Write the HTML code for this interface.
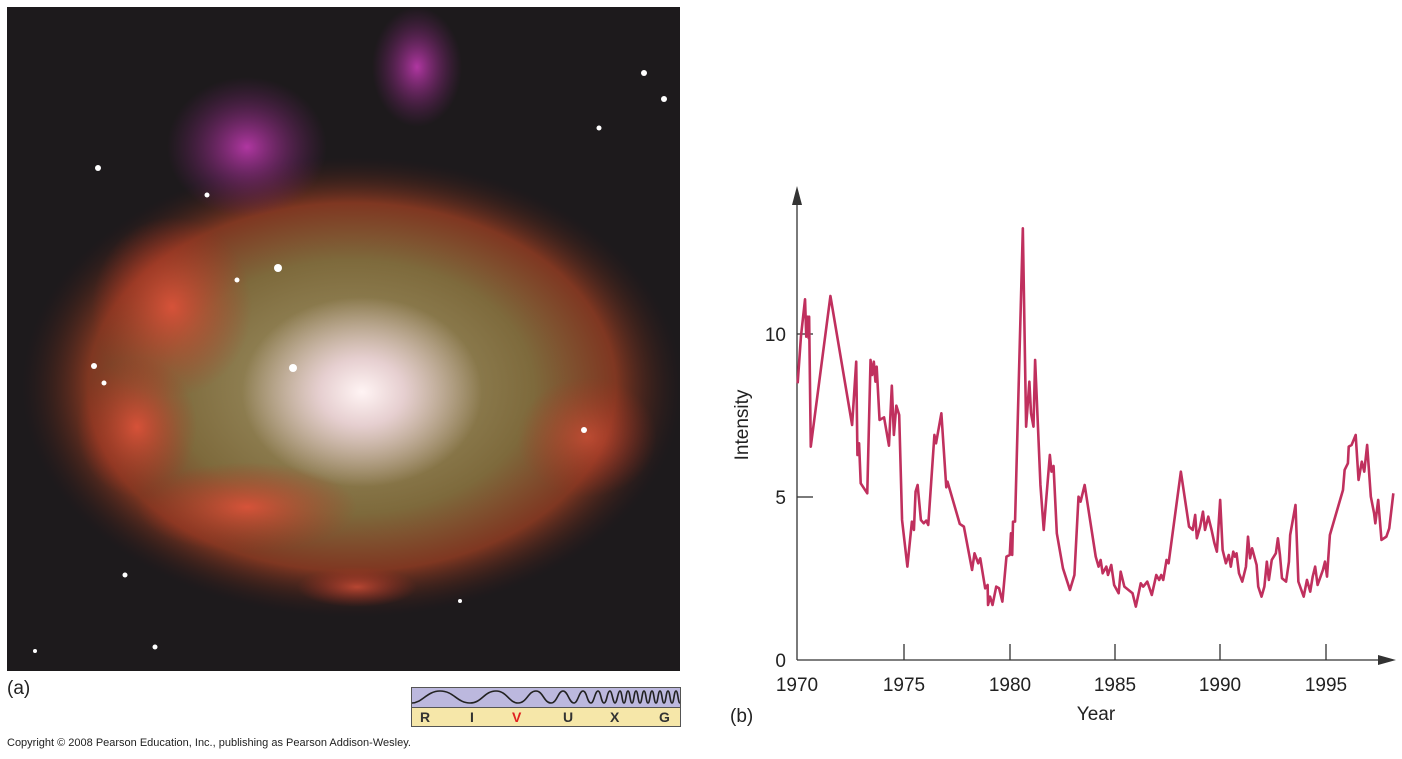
<!DOCTYPE html>
<html><head><style>
html,body{margin:0;padding:0;background:#fff;width:1402px;height:759px;overflow:hidden;font-family:"Liberation Sans",sans-serif;}
.abs{position:absolute;}
</style></head><body>
<div class="abs" style="left:7px;top:7px;width:673px;height:664px;background:#1d1a1c;overflow:hidden;">
<svg width="673" height="664" viewBox="0 0 673 664">
<defs>
<radialGradient id="core" cx="0.5" cy="0.5" r="0.5">
<stop offset="0" stop-color="#fff4f4"/><stop offset="0.35" stop-color="#e6cfd0"/><stop offset="1" stop-color="#e6cfd0" stop-opacity="0"/></radialGradient>
<radialGradient id="disk" cx="0.5" cy="0.5" r="0.5">
<stop offset="0" stop-color="#a49a6e"/><stop offset="0.55" stop-color="#7e6a3c"/><stop offset="0.8" stop-color="#8a3a22" stop-opacity="0.9"/><stop offset="1" stop-color="#3a1c18" stop-opacity="0"/></radialGradient>
<radialGradient id="red" cx="0.5" cy="0.5" r="0.5">
<stop offset="0" stop-color="#e0523a" stop-opacity="0.9"/><stop offset="1" stop-color="#b03020" stop-opacity="0"/></radialGradient>
<radialGradient id="pur" cx="0.5" cy="0.5" r="0.5">
<stop offset="0" stop-color="#c03ab0" stop-opacity="0.9"/><stop offset="1" stop-color="#7a2070" stop-opacity="0"/></radialGradient>
</defs>
<ellipse cx="345" cy="380" rx="330" ry="230" fill="url(#disk)"/>
<ellipse cx="165" cy="300" rx="80" ry="90" fill="url(#red)"/>
<ellipse cx="240" cy="500" rx="110" ry="45" fill="url(#red)"/>
<ellipse cx="130" cy="420" rx="60" ry="70" fill="url(#red)"/>
<ellipse cx="580" cy="430" rx="70" ry="60" fill="url(#red)" opacity="0.7"/>
<ellipse cx="350" cy="580" rx="60" ry="20" fill="url(#red)" opacity="0.8"/>
<ellipse cx="240" cy="140" rx="80" ry="70" fill="url(#pur)"/>
<ellipse cx="410" cy="60" rx="45" ry="60" fill="url(#pur)"/>
<ellipse cx="355" cy="385" rx="120" ry="95" fill="url(#core)"/>
<g fill="#fff">
<circle cx="91" cy="161" r="3"/><circle cx="637" cy="66" r="3"/><circle cx="657" cy="92" r="3"/><circle cx="592" cy="121" r="2.5"/>
<circle cx="271" cy="261" r="4"/><circle cx="286" cy="361" r="4"/><circle cx="87" cy="359" r="3"/><circle cx="97" cy="376" r="2.5"/>
<circle cx="577" cy="423" r="3"/><circle cx="118" cy="568" r="2.5"/><circle cx="148" cy="640" r="2.5"/><circle cx="28" cy="644" r="2"/>
<circle cx="200" cy="188" r="2.5"/><circle cx="230" cy="273" r="2.5"/><circle cx="453" cy="594" r="2"/>
</g>
</svg>
</div>
<div class="abs" style="left:7px;top:678px;font-size:19px;color:#222;">(a)</div>
<div class="abs" style="left:7px;top:737px;font-size:11px;color:#222;">Copyright © 2008 Pearson Education, Inc., publishing as Pearson Addison-Wesley.</div>
<div class="abs" style="left:411px;top:687px;width:268px;height:38px;border:1px solid #555;">
<div style="height:19px;background:#bcb8de;border-bottom:1px solid #555;overflow:hidden;">
<svg width="268" height="19"><path d="M0,15 C10,15 15,3 28,3 C42,3 45,15 58,15 C70,15 72,3 84,3 C95,3 97,15 106,15 C115,15 116,3 124,3 C131,3 132,15 139,15 C145,15 146,3 151,3 C156,3 157,15 162,15 C166,15 167,3 171,3 C175,3 175,15 179,15 C182,15 183,3 186,3 C189,3 189,15 192,15 C195,15 195,3 198,3 C200,3 201,15 203,15 C205,15 206,3 208,3 C210,3 210,15 212,15 C214,15 214,3 216,3 C218,3 218,15 220,15 C222,15 222,3 224,3 C226,3 226,15 228,15 C230,15 230,3 232,3 C234,3 234,15 236,15 C238,15 238,3 240,3 C242,3 242,15 244,15 C246,15 246,3 248,3 C250,3 250,15 252,15 C254,15 254,3 256,3 C258,3 258,15 260,15 C262,15 262,3 264,3 C266,3 266,15 268,15" fill="none" stroke="#222" stroke-width="1.6"/></svg>
</div>
<div style="height:18px;background:#f6e7a9;position:relative;font-weight:bold;font-size:14px;color:#333;">
<span class="abs" style="left:8px;top:1px;">R</span><span class="abs" style="left:58px;top:1px;">I</span><span class="abs" style="left:100px;top:1px;color:#e02020;">V</span><span class="abs" style="left:151px;top:1px;">U</span><span class="abs" style="left:198px;top:1px;">X</span><span class="abs" style="left:247px;top:1px;">G</span>
</div>
</div>
<svg class="abs" style="left:0;top:0;" width="1402" height="759">
<g stroke="#333" stroke-width="1.3" fill="none">
<line x1="797" y1="660" x2="797" y2="200"/>
<line x1="797" y1="660" x2="1384" y2="660"/>
<line x1="797" y1="334" x2="813" y2="334"/>
<line x1="797" y1="497" x2="813" y2="497"/>
<line x1="904" y1="644" x2="904" y2="660"/><line x1="1010" y1="644" x2="1010" y2="660"/><line x1="1115" y1="644" x2="1115" y2="660"/><line x1="1220" y1="644" x2="1220" y2="660"/><line x1="1326" y1="644" x2="1326" y2="660"/>
</g>
<polygon points="797,186 792,205 802,205" fill="#333"/>
<polygon points="1396,660 1378,655 1378,665" fill="#333"/>
<g font-family="Liberation Sans, sans-serif" font-size="19" fill="#222">
<text x="786" y="341" text-anchor="end">10</text>
<text x="786" y="504" text-anchor="end">5</text>
<text x="786" y="667" text-anchor="end">0</text>
<text x="797" y="691" text-anchor="middle">1970</text>
<text x="904" y="691" text-anchor="middle">1975</text>
<text x="1010" y="691" text-anchor="middle">1980</text>
<text x="1115" y="691" text-anchor="middle">1985</text>
<text x="1220" y="691" text-anchor="middle">1990</text>
<text x="1326" y="691" text-anchor="middle">1995</text>
<text x="1096" y="720" text-anchor="middle">Year</text>
<text x="730" y="722">(b)</text>
<text transform="translate(748,425) rotate(-90)" text-anchor="middle">Intensity</text>
</g>
<g transform="translate(760,180) scale(0.4094,0.3333)">
<polyline fill="none" stroke="#c0305e" stroke-width="2.6" vector-effect="non-scaling-stroke" stroke-linejoin="round" points="92,610 100,470 110,358 113,470 116,410 119,475 120,410 124,800 172,348 225,735 235,545 238,825 242,790 246,910 262,940 270,540 274,585 278,545 282,605 285,560 292,720 303,712 315,797 322,617 327,765 333,677 340,705 347,1020 360,1160 371,1025 376,1050 380,935 385,915 393,1020 400,1030 406,1022 411,1035 426,765 430,790 443,700 455,922 458,905 488,1032 498,1040 518,1170 524,1120 533,1150 538,1135 550,1225 556,1215 557,1275 562,1250 568,1275 577,1220 584,1225 592,1265 602,1130 610,1125 613,1060 616,1125 618,1025 623,1025 642,145 650,740 658,605 662,700 668,740 672,540 685,915 693,1050 708,825 712,875 717,858 725,1060 740,1165 757,1230 768,1185 778,950 783,965 793,915 820,1130 827,1160 832,1140 837,1180 846,1160 850,1185 858,1155 865,1215 876,1240 881,1175 890,1220 910,1240 918,1280 930,1210 936,1220 946,1205 957,1245 968,1185 975,1200 980,1185 985,1200 993,1140 998,1150 1028,875 1048,1040 1057,1050 1063,1005 1067,1075 1075,1040 1082,995 1087,1050 1095,1010 1103,1050 1110,1090 1116,1115 1124,960 1130,1110 1138,1150 1145,1125 1150,1160 1156,1115 1160,1130 1164,1120 1170,1180 1178,1205 1187,1160 1192,1070 1197,1135 1202,1105 1213,1155 1217,1220 1225,1250 1232,1220 1238,1145 1243,1200 1250,1140 1260,1120 1265,1075 1270,1125 1275,1195 1285,1205 1292,1145 1295,1065 1308,975 1315,1205 1328,1250 1336,1200 1344,1235 1350,1190 1356,1160 1362,1215 1375,1170 1380,1145 1385,1190 1392,1065 1424,930 1428,870 1436,850 1438,800 1445,795 1455,765 1462,900 1470,845 1476,875 1483,795 1492,950 1500,1000 1503,1030 1510,960 1518,1080 1530,1070 1537,1045 1547,940"/>
</g>
</svg>
</body></html>
